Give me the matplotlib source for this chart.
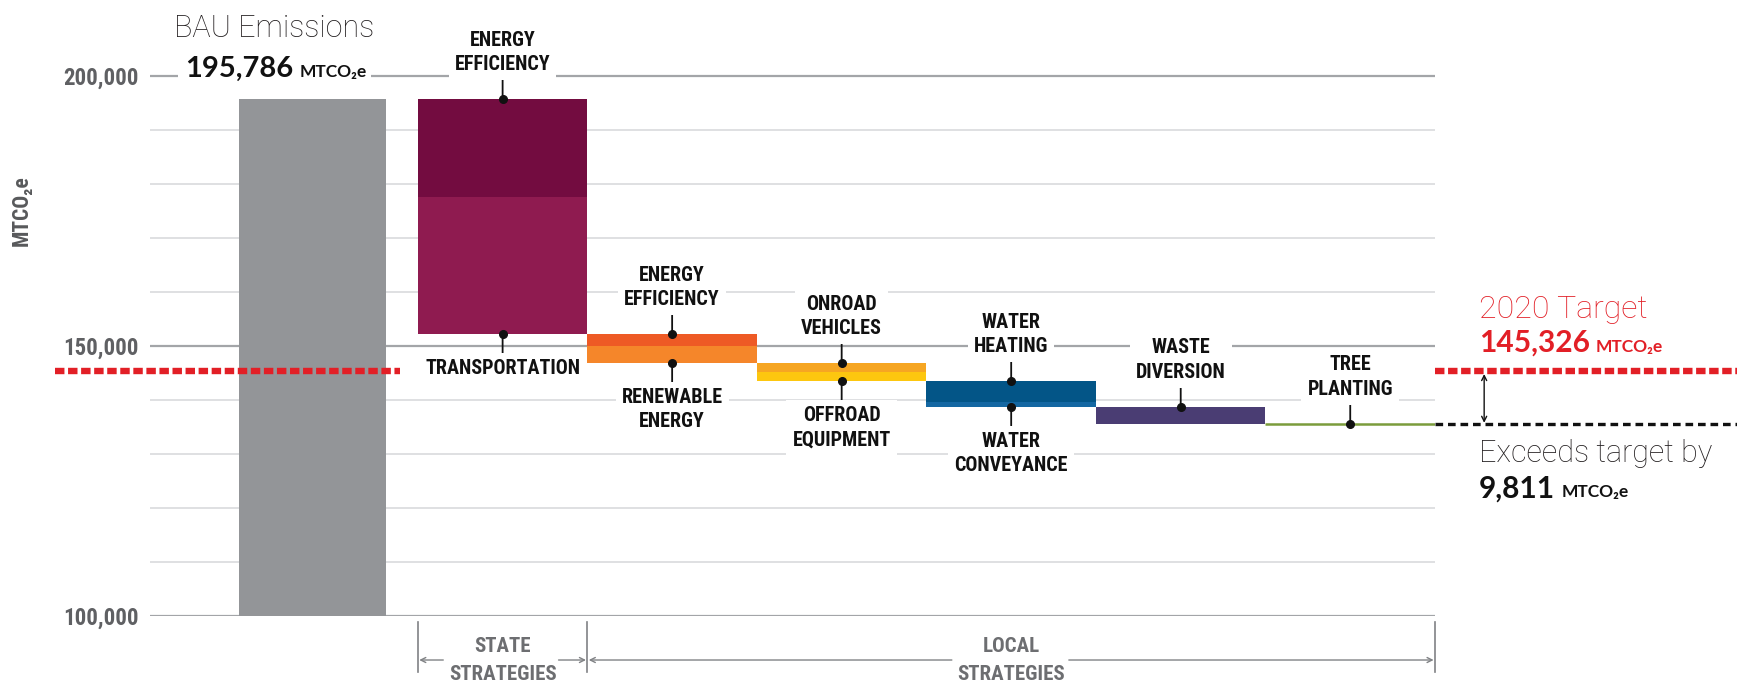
import matplotlib
matplotlib.use("Agg")
import matplotlib.pyplot as plt
from matplotlib import font_manager as fm

# ---------------- data ----------------
bau_label = "BAU Emissions"
bau_value = 195786
target_label = "2020 Target"
target_value = 145326
exceed_label = "Exceeds target by"
exceed_value = 9811
unit_label = "MTCO\u2082e"

step_labels = ["ENERGY\nEFFICIENCY", "TRANSPORTATION",
               "ENERGY\nEFFICIENCY", "RENEWABLE\nENERGY",
               "ONROAD\nVEHICLES", "OFFROAD\nEQUIPMENT",
               "WATER\nHEATING", "WATER\nCONVEYANCE",
               "WASTE\nDIVERSION", "TREE\nPLANTING"]
step_reductions = [18200, 25400, 2200, 3100, 1700, 1650, 3850, 930, 3150, 91]
step_column = [1, 1, 2, 2, 3, 3, 4, 4, 5, 6]
step_colors = ["#730C40", "#8F1B50", "#EE5A25", "#F5862A", "#F6A623",
               "#FDC70F", "#035587", "#1467A2", "#4A3D73", "#7B9C3C"]
group_labels = ["STATE\nSTRATEGIES", "LOCAL\nSTRATEGIES"]
group_columns = [(1, 1), (2, 6)]
ytick_values = [100000, 150000, 200000]

# ---------------- style ----------------
plt.rcParams["lines.scale_dashes"] = False
names = {f.name for f in fm.fontManager.ttflist}


def pick(cands):
    for c in cands:
        if c in names:
            return c
    return "DejaVu Sans"


NARROW = [pick(["Liberation Sans Narrow", "Roboto Condensed", "Liberation Sans"]), "DejaVu Sans"]
LIGHT = [pick(["Roboto", "Open Sans", "Noto Sans"]), "DejaVu Sans"]
BOLD = [pick(["Lato", "Open Sans", "Noto Sans"]), "DejaVu Sans"]

RED = "#E21F26"
GRAY_TXT = "#6D6E71"
BAU_COLOR = "#939598"
INK = "#111111"

W, H = 1737, 693
fig = plt.figure(figsize=(W / 100, H / 100), dpi=100)
ax = fig.add_axes([150 / W, 77 / H, 1285 / W, 594 / H])
XMAX = 7.58
ax.set_xlim(0, XMAX)
ax.set_ylim(100000, 210000)
for s in ax.spines.values():
    s.set_visible(False)
ax.set_xticks([])
ax.set_yticks(ytick_values)
ax.set_yticklabels([f"{v:,}" for v in ytick_values], family=NARROW,
                   fontsize=16.5, color="#5f6063", fontweight="bold")
ax.tick_params(axis="y", length=0, pad=8)

for v in range(100000, 200001, 10000):
    major = v in ytick_values
    ax.axhline(v, color="#a3a5a8" if major else "#dcdddf",
               lw=1.6 if major else 1.3, zorder=0)

# ---------------- bars ----------------
BAU_X, BAU_W = 0.96, 0.87
ax.bar(BAU_X, bau_value, width=BAU_W, color=BAU_COLOR, zorder=2, linewidth=0)

FIRST_LEFT = 1.58


def col_left(c):
    return FIRST_LEFT + (c - 1)


level = bau_value
tops, bottoms = [], []
for red, col, color in zip(step_reductions, step_column, step_colors):
    tops.append(level)
    level -= red
    bottoms.append(level)
    thin = red < 500
    ax.bar(col_left(col), red, bottom=level, width=1.0, align="edge",
           color=color, zorder=2, linewidth=1.8 if thin else 0,
           edgecolor=color)
final_value = level


def callout(text, x, y, dy):
    ax.annotate(text, xy=(x, y), xytext=(0, dy), textcoords="offset points",
                ha="center", va="bottom" if dy > 0 else "top",
                fontsize=14.5, family=NARROW, fontweight="bold",
                linespacing=1.35, color=INK, zorder=5,
                bbox=dict(boxstyle="square,pad=0.3", fc="white", ec="none"),
                arrowprops=dict(arrowstyle="-", color=INK, lw=1.3,
                                shrinkA=0, shrinkB=0))
    ax.plot([x], [y], "o", color=INK, ms=5.5, zorder=6)


for col in sorted(set(step_column)):
    idx = [i for i, c in enumerate(step_column) if c == col]
    xc = col_left(col) + 0.5
    callout(step_labels[idx[0]], xc, tops[idx[0]], 18)
    if len(idx) > 1:
        callout(step_labels[idx[-1]], xc, bottoms[idx[-1]], -18)

# ---------------- target / result lines ----------------
X_RIGHT = (W - 150) / 169.5
ax.plot([-0.56, 1.475], [target_value] * 2, color=RED, lw=4.6,
        dashes=(6.8, 2.6), clip_on=False, zorder=4)
ax.plot([XMAX, X_RIGHT], [target_value] * 2, color=RED, lw=4.6,
        dashes=(6.8, 2.6), clip_on=False, zorder=4)
ax.plot([XMAX, X_RIGHT], [final_value] * 2, color=INK, lw=2.4,
        dashes=(5.5, 3.5), clip_on=False, zorder=4)
ax.annotate("", xy=(7.87, final_value), xytext=(7.87, target_value),
            arrowprops=dict(arrowstyle="<->", color=INK, lw=1.0,
                            mutation_scale=9, shrinkA=2, shrinkB=1),
            annotation_clip=False)

# ---------------- big labels ----------------
fig.canvas.draw()
renderer = fig.canvas.get_renderer()


def value_with_unit(x, y, value, color, size, unit_size, bbox=None):
    t = ax.text(x, y, f"{value:,}", family=BOLD, fontweight="bold",
                fontsize=size, color=color, ha="left", va="baseline",
                clip_on=False, zorder=5, bbox=bbox)
    bb = t.get_window_extent(renderer)
    xu = ax.transData.inverted().transform((bb.x1 + 6, 0))[0]
    ax.text(xu, y, unit_label, family=BOLD, fontweight="bold",
            fontsize=unit_size, color=color, ha="left", va="baseline",
            clip_on=False, zorder=5, bbox=bbox)


ax.text(0.73, 207300, bau_label, family=LIGHT, fontweight="light",
        fontsize=22, color="#231F20", ha="center", va="baseline", clip_on=False)
value_with_unit(0.21, 199850, bau_value, INK, 21, 12.5,
                bbox=dict(boxstyle="square,pad=0.25", fc="white", ec="none"))

XR = 7.84
ax.text(XR, 155200, target_label, family=LIGHT, fontweight="light",
        fontsize=23, color=RED, ha="left", va="baseline", clip_on=False)
value_with_unit(XR, 148900, target_value, RED, 21.5, 12.5)
ax.text(XR, 128500, exceed_label, family=LIGHT, fontweight="light",
        fontsize=22, color="#231F20", ha="left", va="baseline", clip_on=False)
value_with_unit(XR, 122000, exceed_value, INK, 21.5, 12.5)

# ---------------- axis label ----------------
fig.text(22 / W, 1 - 211 / H, unit_label, rotation=90, ha="center",
         va="center", fontsize=15.5, fontweight="bold", family=NARROW,
         color="#58595B")

# ---------------- strategy brackets ----------------
Y_T0, Y_T1, Y_ARR = 98900, 89600, 91850
edges = [col_left(1), col_left(2), col_left(6) + 1.0]
for xv in edges:
    ax.plot([xv, xv], [Y_T0, Y_T1], color="#808285", lw=1.2, clip_on=False)

arrow_gaps = [(1.73, 2.41), (4.73, 5.42)]
for (c0, c1), label, (g0, g1) in zip(group_columns, group_labels, arrow_gaps):
    xl, xr = col_left(c0), col_left(c1) + 1.0
    xc = (xl + xr) / 2
    ax.text(xc, Y_ARR, label, ha="center", va="center", fontsize=15,
            family=NARROW, fontweight="bold", color=GRAY_TXT,
            linespacing=1.6, clip_on=False)
    for start, end in [(g0, xl), (g1, xr)]:
        ax.annotate("", xy=(end, Y_ARR), xytext=(start, Y_ARR),
                    arrowprops=dict(arrowstyle="->", color="#808285", lw=1.0,
                                    mutation_scale=9, shrinkA=0, shrinkB=1),
                    annotation_clip=False)

fig.savefig("out.png", dpi=100, facecolor="white")
